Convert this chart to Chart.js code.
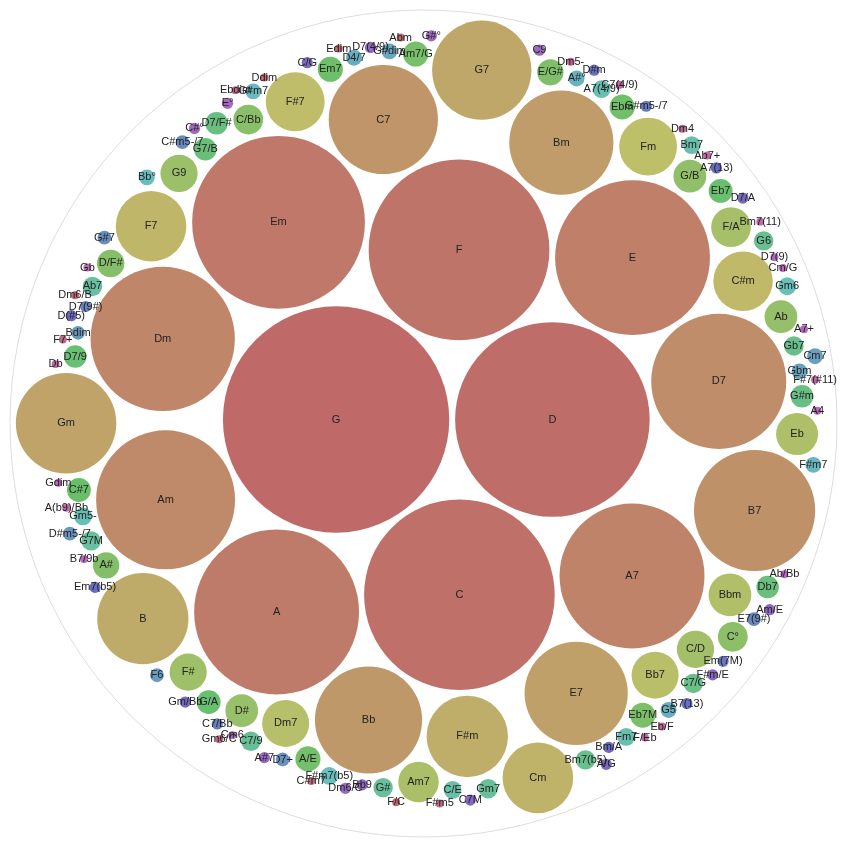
<!DOCTYPE html>
<html>
<head>
<meta charset="utf-8">
<script src="https://cdn.jsdelivr.net/npm/chart.js@4.4.1/dist/chart.umd.min.js"></script>
<style>
  body { margin: 0; background: #fff; }
  canvas { display: block; }
</style>
</head>
<body>
<canvas id="chordChart" width="847" height="847"></canvas>
<script>
// chord names and how often each one occurs
var chords = [
  'G', 'D', 'C', 'F', 'Em', 'A', 'E', 'A7', 'Dm', 'Am',
  'D7', 'B7', 'C7', 'Bb', 'Bm', 'E7', 'Gm', 'G7', 'B', 'F#m',
  'Cm', 'F7', 'C#m', 'F#7', 'Fm', 'Bb7', 'Dm7', 'Bbm', 'Eb', 'Am7',
  'F/A', 'C/D', 'F#', 'G9', 'D#', 'Ab', 'G/B', 'C°', 'C/Bb', 'D/F#',
  'A#', 'E/G#', 'Eb7M', 'Am7/G', 'A/E', 'Ebm', 'Em7', 'C#7', 'Eb7', 'G/A',
  'D7/9', 'G7/B', 'Db7', 'D7/F#', 'G#m',
  'C7/G', 'Gb7', 'Bm7(b5)', 'G6', 'C7/9', 'Gm7', 'G#', 'G7M', 'Ab7',
  'C/E', 'Bm7', 'Fm7', 'A7(4/9)', 'Gm5-', 'Gm6', 'F#m7(b5)',
  'Bb°', 'G#m7', 'F#m7', 'A#°', 'G5', 'D4/7', 'G#dim', 'Gbm', 'Cm7',
  'F6', 'Bdim', 'D#m5-/7', 'D7+', 'G#7', 'C#m5-/7', 'E7(9#)',
  'D7(9#)', 'C7/Bb', 'G#m5-/7', 'Em(7M)', 'D#m', 'B7(13)', 'Em7(b5)', 'A7(13)', 'Bm/A', 'D(#5)',
  'Gm/Bb', 'D7/A', 'C/G', 'A/G', 'C7M', 'F#m/E', 'Bb9', 'Am/E', 'D7(4/9)', 'A#7',
  'Dm6/C', 'C9', 'G#°', 'C#°', 'E°',
  'D7(9)', 'A7+', 'Cm6', 'Ab/Bb', 'B7/9b', 'A4', 'Gdim', 'Cm/G', 'Gb', 'Bm7(11)',
  'A(b9)/Bb', 'F/Eb', 'Ab7+', 'F#7(#11)', 'Db', 'C7(4/9)', 'Dm4', 'Eb/F', 'Dm5-', 'Ebdim',
  'Gm6/C', 'F7+', 'F#m5', 'C#m7', 'Dm6/B', 'Ddim', 'F/C', 'Edim', 'Abm'
];
var counts = [
  812, 600, 576, 518, 473, 431, 380, 333, 330, 306,
  289, 233, 189, 182, 172, 169, 160, 156, 132, 105,
  79, 79, 56, 55, 53, 35, 35, 29, 28, 26,
  25, 22, 22, 22, 17, 17, 17, 14, 14, 12,
  11, 11, 10, 10, 10, 10, 10, 9, 9, 9,
  8, 8, 8, 8, 8,
  6, 6, 6, 6, 6, 6, 6, 6, 6,
  5, 5, 5, 5, 5, 5, 5,
  4, 4, 4, 4, 4, 4, 4, 4, 4,
  3, 3, 3, 3, 3, 3, 3,
  2, 2, 2, 2, 2, 2, 2, 2, 2, 2,
  2, 2, 2, 2, 2, 2, 2, 2, 2, 2,
  2, 2, 2, 2, 2,
  1, 1, 1, 1, 1, 1, 1, 1, 1, 1,
  1, 1, 1, 1, 1, 1, 1, 1, 1, 1,
  1, 1, 1, 1, 1, 1, 1, 1, 1
];

// ---- circle packing, same front-chain method as d3.pack ----
function place(b, a, c) {
  var dx = b.x - a.x, dy = b.y - a.y, d2 = dx * dx + dy * dy, x, y, a2, b2;
  if (d2) {
    a2 = a.r + c.r; a2 *= a2;
    b2 = b.r + c.r; b2 *= b2;
    if (a2 > b2) {
      x = (d2 + b2 - a2) / (2 * d2);
      y = Math.sqrt(Math.max(0, b2 / d2 - x * x));
      c.x = b.x - x * dx - y * dy;
      c.y = b.y - x * dy + y * dx;
    } else {
      x = (d2 + a2 - b2) / (2 * d2);
      y = Math.sqrt(Math.max(0, a2 / d2 - x * x));
      c.x = a.x + x * dx - y * dy;
      c.y = a.y + x * dy + y * dx;
    }
  } else {
    c.x = a.x + c.r;
    c.y = a.y;
  }
}
function intersects(a, b) {
  var dr = a.r + b.r - 1e-6, dx = b.x - a.x, dy = b.y - a.y;
  return dr > 0 && dr * dr > dx * dx + dy * dy;
}
function score(node) {
  var a = node._, b = node.next._, ab = a.r + b.r,
      dx = (a.x * b.r + b.x * a.r) / ab,
      dy = (a.y * b.r + b.y * a.r) / ab;
  return dx * dx + dy * dy;
}
function Link(circle) { this._ = circle; this.next = null; this.previous = null; }

function basis2(a, b) {
  var x21 = b.x - a.x, y21 = b.y - a.y, r21 = b.r - a.r,
      l = Math.sqrt(x21 * x21 + y21 * y21);
  return { x: (a.x + b.x + x21 / l * r21) / 2, y: (a.y + b.y + y21 / l * r21) / 2, r: (l + a.r + b.r) / 2 };
}
function basis3(a, b, c) {
  var x1 = a.x, y1 = a.y, r1 = a.r, x2 = b.x, y2 = b.y, r2 = b.r, x3 = c.x, y3 = c.y, r3 = c.r,
      a2 = x1 - x2, a3 = x1 - x3, b2 = y1 - y2, b3 = y1 - y3,
      c2 = r2 - r1, c3 = r3 - r1,
      d1 = x1 * x1 + y1 * y1 - r1 * r1,
      d2 = d1 - x2 * x2 - y2 * y2 + r2 * r2,
      d3 = d1 - x3 * x3 - y3 * y3 + r3 * r3,
      ab = a3 * b2 - a2 * b3,
      xa = (b2 * d3 - b3 * d2) / (ab * 2) - x1,
      xb = (b3 * c2 - b2 * c3) / ab,
      ya = (a3 * d2 - a2 * d3) / (ab * 2) - y1,
      yb = (a2 * c3 - a3 * c2) / ab,
      A = xb * xb + yb * yb - 1,
      B = 2 * (r1 + xa * xb + ya * yb),
      C = xa * xa + ya * ya - r1 * r1,
      r = -(Math.abs(A) > 1e-6 ? (B + Math.sqrt(B * B - 4 * A * C)) / (2 * A) : C / B);
  return { x: x1 + xa + xb * r, y: y1 + ya + yb * r, r: r };
}

// smallest circle holding every circle of the front chain (brute force, chain is short)
function enclose(circles) {
  var m = circles.length, best = null, i, j, k;
  function tryCircle(e) {
    if (!e || !isFinite(e.r) || !isFinite(e.x) || !isFinite(e.y) || e.r <= 0) return;
    if (best && e.r >= best.r) return;
    for (var t = 0; t < m; ++t) {
      var c = circles[t], dx = c.x - e.x, dy = c.y - e.y;
      if (Math.sqrt(dx * dx + dy * dy) + c.r > e.r * (1 + 1e-7) + 1e-7) return;
    }
    best = e;
  }
  for (i = 0; i < m; ++i) tryCircle({ x: circles[i].x, y: circles[i].y, r: circles[i].r });
  for (i = 0; i < m; ++i) for (j = i + 1; j < m; ++j) tryCircle(basis2(circles[i], circles[j]));
  for (i = 0; i < m; ++i) for (j = i + 1; j < m; ++j) for (k = j + 1; k < m; ++k) {
    tryCircle(basis3(circles[i], circles[j], circles[k]));
  }
  if (!best) {
    var R = 0;
    circles.forEach(function (c) { R = Math.max(R, Math.sqrt(c.x * c.x + c.y * c.y) + c.r); });
    best = { x: 0, y: 0, r: R };
  }
  return best;
}

function packSiblings(circles) {
  var n = circles.length, a, b, c, aa, ca, i, j, k, sj, sk;
  a = circles[0]; a.x = 0; a.y = 0;
  b = circles[1]; a.x = -b.r; b.x = a.r; b.y = 0;
  place(b, a, c = circles[2]);
  a = new Link(a); b = new Link(b); c = new Link(c);
  a.next = c.previous = b;
  b.next = a.previous = c;
  c.next = b.previous = a;
  pack: for (i = 3; i < n; ++i) {
    place(a._, b._, c = circles[i]); c = new Link(c);
    j = b.next; k = a.previous; sj = b._.r; sk = a._.r;
    do {
      if (sj <= sk) {
        if (intersects(j._, c._)) { b = j; a.next = b; b.previous = a; --i; continue pack; }
        sj += j._.r; j = j.next;
      } else {
        if (intersects(k._, c._)) { a = k; a.next = b; b.previous = a; --i; continue pack; }
        sk += k._.r; k = k.previous;
      }
    } while (j !== k.next);
    c.previous = a; c.next = b; a.next = b.previous = b = c;
    aa = score(a);
    while ((c = c.next) !== b) {
      if ((ca = score(c)) < aa) { a = c; aa = ca; }
    }
    b = a.next;
  }
  var chain = [b._]; c = b;
  while ((c = c.next) !== b) chain.push(c._);
  var e = enclose(chain);
  for (i = 0; i < n; ++i) { circles[i].x -= e.x; circles[i].y -= e.y; }
  return e.r;
}

function packChords(names, values, size, offset, padding) {
  var nodes = names.map(function (name, i) { return { name: name, value: values[i] }; });
  nodes.sort(function (a, b) { return b.value - a.value; });
  function run(k) {
    var p = padding * k;
    nodes.forEach(function (d) { d.r = Math.sqrt(d.value) + p; });
    var e = packSiblings(nodes);
    nodes.forEach(function (d) { d.r -= p; });
    return e + p;
  }
  var rootR = run(0.5);
  rootR = run(rootR / size);
  var s = size / (2 * rootR);
  var cx = offset + size / 2;
  nodes.forEach(function (d) { d.x = cx + d.x * s; d.y = cx + d.y * s; d.r *= s; });
  return { nodes: nodes, root: { x: cx, y: cx, r: rootR * s } };
}

var packed = packChords(chords, counts, 827, 10, 5);
var nodes = packed.nodes;

var bubbleData = nodes.map(function (d) { return { x: d.x, y: d.y, r: d.r }; });
var bubbleNames = nodes.map(function (d) { return d.name; });
var colours = nodes.map(function (d, i) {
  return 'hsl(' + (360 * i / nodes.length).toFixed(1) + ', 40%, 58%)';
});

var chordLabels = {
  id: 'chordLabels',
  afterDatasetsDraw: function (chart) {
    var ctx = chart.ctx;
    var meta = chart.getDatasetMeta(0);
    ctx.save();
    ctx.font = '11px "Liberation Sans", Arial, sans-serif';
    ctx.fillStyle = '#222';
    ctx.textAlign = 'center';
    ctx.textBaseline = 'middle';
    meta.data.forEach(function (pt, i) {
      ctx.fillText(bubbleNames[i], pt.x, pt.y);
    });
    ctx.restore();
  }
};

var ctx = document.getElementById('chordChart').getContext('2d');
var chart = new Chart(ctx, {
  type: 'bubble',
  data: {
    datasets: [{
      label: 'Chords',
      data: bubbleData,
      backgroundColor: colours,
      borderWidth: 0,
      order: 0
    }, {
      label: 'All',
      data: [{ x: packed.root.x, y: packed.root.y, r: packed.root.r }],
      backgroundColor: 'rgba(255,255,255,0)',
      borderColor: '#dddddd',
      borderWidth: 1,
      order: 1
    }]
  },
  options: {
    responsive: false,
    animation: false,
    events: [],
    layout: { autoPadding: false, padding: 0 },
    plugins: {
      legend: { display: false },
      tooltip: { enabled: false }
    },
    scales: {
      x: { type: 'linear', min: 0, max: 847, display: false },
      y: { type: 'linear', min: 0, max: 847, reverse: true, display: false }
    }
  },
  plugins: [chordLabels]
});
</script>
</body>
</html>
